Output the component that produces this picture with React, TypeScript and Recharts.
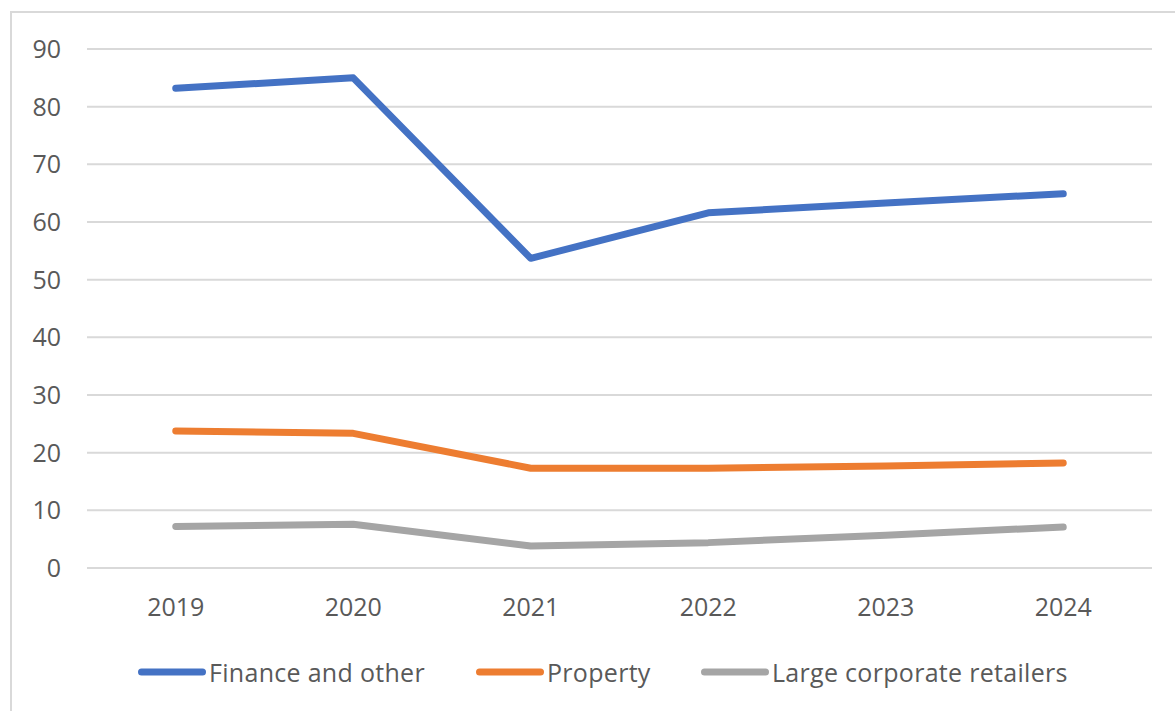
import React from 'react';
import { LineChart, Line, XAxis, YAxis, CartesianGrid, Legend } from 'recharts';

const years = ['2019', '2020', '2021', '2022', '2023', '2024'];
const finance = [83.2, 85.0, 53.7, 61.6, 63.3, 64.9];
const property = [23.75, 23.35, 17.3, 17.3, 17.7, 18.2];
const retailers = [7.2, 7.6, 3.8, 4.4, 5.7, 7.1];
const yTicks = [0, 10, 20, 30, 40, 50, 60, 70, 80, 90];

const series = [
  { key: 'finance', name: 'Finance and other', color: '#4472C4', values: finance },
  { key: 'property', name: 'Property', color: '#ED7D31', values: property },
  { key: 'retailers', name: 'Large corporate retailers', color: '#A5A5A5', values: retailers },
];

const data = years.map((y, i) => {
  const row: Record<string, any> = { year: y };
  series.forEach((s) => {
    row[s.key] = s.values[i];
  });
  return row;
});

const FONT = '"Open Sans", "Liberation Sans", sans-serif';
const TEXT = '#595959';
const legendTextWidths = [214, 103, 300];
const legendGaps = [50, 48, 0];

const renderLegend = () => (
  <div
    style={{
      height: 40,
      display: 'flex',
      alignItems: 'center',
      paddingLeft: 135,
      fontFamily: FONT,
      fontSize: 25,
      letterSpacing: 0.3,
      color: TEXT,
      whiteSpace: 'nowrap',
    }}
  >
    {series.map((s, i) => (
      <div key={s.key} style={{ display: 'flex', alignItems: 'center', marginRight: legendGaps[i] }}>
        <svg width={72} height={10} style={{ marginRight: 2 }}>
          <line x1={6.5} y1={5} x2={67.5} y2={5} stroke={s.color} strokeWidth={7} strokeLinecap="round" />
        </svg>
        <span style={{ display: 'inline-block', width: legendTextWidths[i] }}>{s.name}</span>
      </div>
    ))}
  </div>
);

export default function App() {
  return (
    <div style={{ position: 'absolute', left: 0, top: 0, width: 1175, height: 711, overflow: 'hidden', background: '#fff' }}>
      <div
        style={{
          position: 'absolute',
          left: 10,
          top: 11,
          width: 1300,
          height: 800,
          borderLeft: '2px solid #d9d9d9',
          borderTop: '2px solid #d9d9d9',
          boxSizing: 'border-box',
        }}
      />
      <div style={{ position: 'absolute', left: 0, top: 0 }}>
        <LineChart width={1175} height={711} data={data} margin={{ top: 49, right: 23, bottom: 19, left: 0 }}>
          <CartesianGrid vertical={false} stroke="#d9d9d9" strokeWidth={2} />
          <XAxis
            dataKey="year"
            axisLine={false}
            tickLine={false}
            tickSize={0}
            tickMargin={30}
            height={84}
            interval={0}
            padding={{ left: 88.75, right: 88.75 }}
            tick={{ fill: TEXT, fontSize: 25, fontFamily: FONT }}
          />
          <YAxis
            domain={[0, 90]}
            ticks={yTicks}
            interval={0}
            axisLine={false}
            tickLine={false}
            tickSize={0}
            tickMargin={26}
            width={87}
            tick={{ fill: TEXT, fontSize: 25, fontFamily: FONT }}
          />
          <Legend verticalAlign="bottom" align="left" height={40} content={renderLegend} />
          {series.map((s) => (
            <Line
              key={s.key}
              type="linear"
              dataKey={s.key}
              name={s.name}
              stroke={s.color}
              strokeWidth={7}
              strokeLinecap="round"
              strokeLinejoin="round"
              dot={false}
              activeDot={false}
              isAnimationActive={false}
            />
          ))}
        </LineChart>
      </div>
    </div>
  );
}
